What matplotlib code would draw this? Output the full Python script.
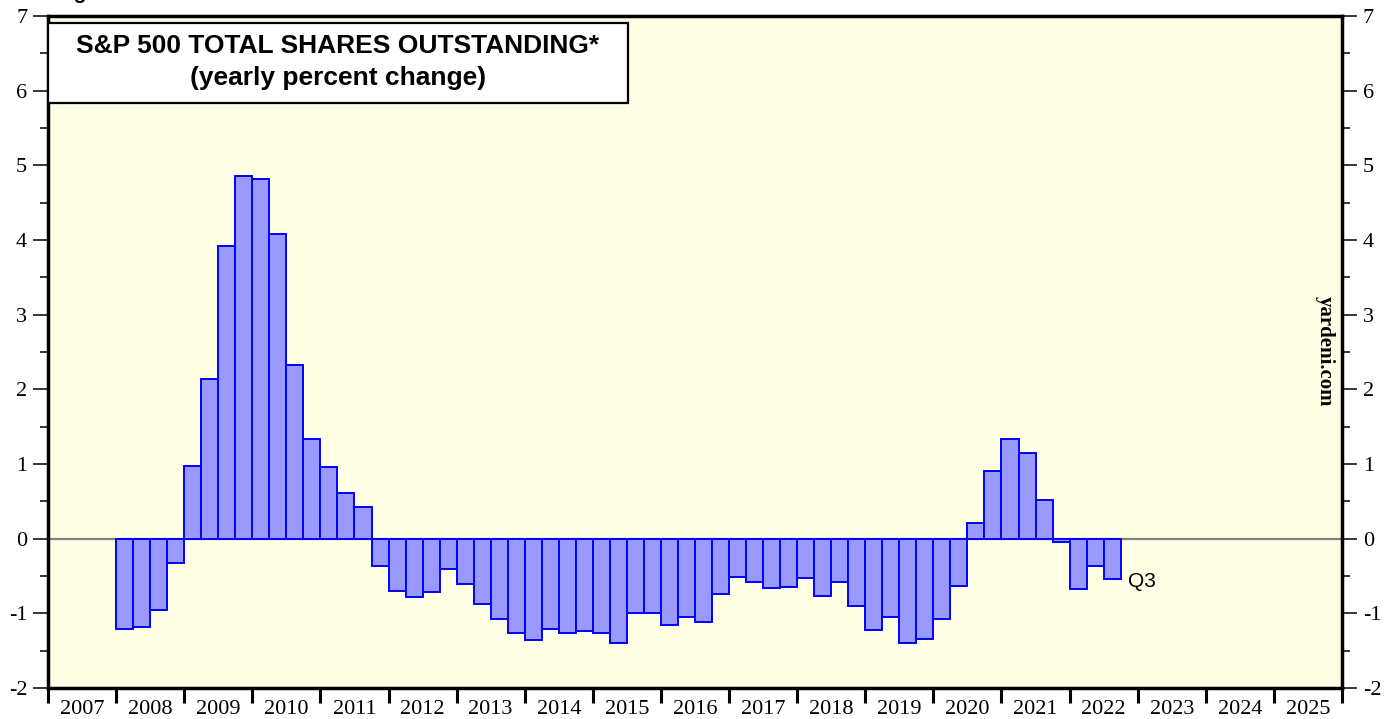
import numpy as np
import matplotlib.pyplot as plt
from matplotlib.patches import Rectangle
from matplotlib.ticker import MultipleLocator, FixedLocator

plt.rcParams['axes.unicode_minus'] = False

# S&P 500 total shares outstanding, yearly % change, quarterly from 2008 Q1 to 2022 Q3
start_year = 2008
shares_pct = [
    -1.21, -1.18, -0.95, -0.32,   # 2008
    0.97, 2.14, 3.92, 4.86,       # 2009
    4.82, 4.08, 2.32, 1.34,       # 2010
    0.96, 0.61, 0.42, -0.36,      # 2011
    -0.70, -0.78, -0.71, -0.40,   # 2012
    -0.61, -0.87, -1.08, -1.27,   # 2013
    -1.36, -1.21, -1.26, -1.24,   # 2014
    -1.26, -1.40, -1.00, -1.00,   # 2015
    -1.15, -1.05, -1.12, -0.74,   # 2016
    -0.52, -0.58, -0.66, -0.65,   # 2017
    -0.53, -0.77, -0.58, -0.90,   # 2018
    -1.22, -1.05, -1.40, -1.34,   # 2019
    -1.08, -0.63, 0.21, 0.91,     # 2020
    1.34, 1.15, 0.52, -0.05,      # 2021
    -0.67, -0.36, -0.54,          # 2022
]
year_labels = list(range(2007, 2026))
last_label = "Q3"

serif = "Liberation Serif"
sans = "Liberation Sans"

fig = plt.figure(figsize=(13.95, 7.19), dpi=100)
ax = fig.add_axes([48 / 1395, 31 / 719, 1294 / 1395, 672 / 719])
ax.set_facecolor("#FFFFE6")

xpos = start_year + 0.25 * np.arange(len(shares_pct)) + 0.125
ax.axhline(0, color="#808080", lw=1.6, zorder=1)
ax.bar(xpos, shares_pct, width=0.25, color="#9999FF", edgecolor="#0000FF",
       linewidth=1.4, zorder=2)

ax.set_xlim(2007, 2026)
ax.set_ylim(-2, 7)

# y axis on both sides
ax.set_yticks(range(-2, 8))
ax.yaxis.set_minor_locator(MultipleLocator(0.5))
ax.tick_params(axis="y", which="both", direction="out", left=True, right=True,
               labelleft=True, labelright=True, labelsize=16, colors="black")
ax.tick_params(axis="y", which="major", length=11, width=1.1, pad=4)
ax.tick_params(axis="y", which="minor", length=5.5, width=1.1)

# x axis: ticks at year boundaries, labels centred on years
ax.xaxis.set_major_locator(FixedLocator(range(2007, 2027)))
ax.xaxis.set_minor_locator(FixedLocator([y + 0.5 for y in year_labels]))
ax.set_xticklabels([], minor=False)
ax.set_xticklabels([str(y) for y in year_labels], minor=True)
ax.tick_params(axis="x", which="major", direction="out", length=11, width=2.2)
ax.tick_params(axis="x", which="minor", length=0, pad=9, labelsize=16)

for lab in ax.get_xticklabels(minor=True) + ax.yaxis.get_ticklabels(which="both"):
    lab.set_fontfamily(serif)

for sp in ax.spines.values():
    sp.set_linewidth(2.5)

# title box
ax.add_patch(Rectangle((0, 0.8705), 0.448, 0.119, transform=ax.transAxes,
                       facecolor="white", edgecolor="black", lw=1.6, zorder=5))
ax.text(0.224, 0.955, "S&P 500 TOTAL SHARES OUTSTANDING*", transform=ax.transAxes,
        ha="center", va="center", fontsize=19, fontweight="bold",
        family=sans, zorder=6)
ax.text(0.224, 0.908, "(yearly percent change)", transform=ax.transAxes,
        ha="center", va="center", fontsize=19, fontweight="bold",
        family=sans, zorder=6)

ax.text(xpos[-1] + 0.235, shares_pct[-1] - 0.03, last_label, ha="left", va="center",
        fontsize=15, family=sans, zorder=6)

ax.text(0.9866, 0.501, "yardeni.com", transform=ax.transAxes, rotation=-90,
        ha="center", va="center", fontsize=15, fontweight="bold", family=serif)

fig.text(55 / 1395, 1.0015, "Figure 1.", ha="left", va="baseline",
         fontsize=15, fontweight="bold", family=sans)

fig.savefig("out.png", dpi=100, facecolor="white")
